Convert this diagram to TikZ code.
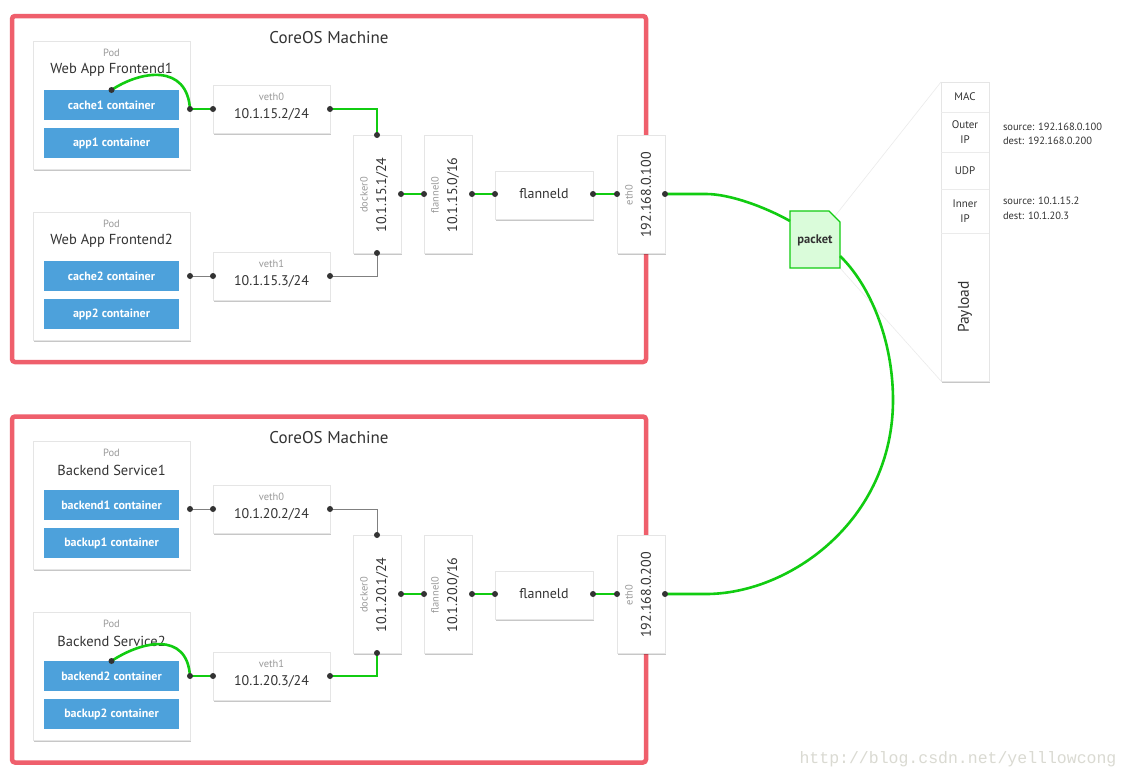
\documentclass[tikz,border=0pt]{standalone}
\usepackage{fontspec}
\setmainfont{PT Sans}
\setmonofont{Liberation Mono}
\usetikzlibrary{shadows,calc}
\definecolor{redf}{HTML}{EF5F6C}
\definecolor{bluec}{HTML}{4DA1DB}
\definecolor{greenl}{HTML}{11CC11}
\definecolor{pktfill}{HTML}{DAFCDA}
\definecolor{dotc}{HTML}{333333}
\definecolor{txt}{HTML}{333333}
\definecolor{lbl}{HTML}{9A9A9A}
\definecolor{wmark}{HTML}{DADAD2}
\newcommand\fsz[2]{\fontsize{#1}{#2}\selectfont}
\newcommand\jdot[1]{\fill[dotc] (#1) circle (3pt);}
\tikzset{
 frame/.style={draw=redf, line width=4.5pt, rounded corners=3pt, minimum width=634pt, minimum height=346pt},
 wbox/.style={draw=black!10, line width=0.6pt, fill=white, drop shadow={shadow xshift=0.8pt, shadow yshift=-1.6pt, opacity=0.22, fill=black}},
 podbox/.style={wbox, minimum width=157pt, minimum height=128pt},
 cont/.style={fill=bluec, minimum width=135pt, minimum height=30pt, text=white, font=\fsz{12}{14}\bfseries},
 vethbox/.style={wbox, minimum width=117pt, minimum height=48pt},
 vbox/.style={wbox, minimum width=48pt, minimum height=118pt},
 fdbox/.style={wbox, minimum width=98pt, minimum height=48pt},
 title/.style={font=\fsz{17}{20}},
 podlbl/.style={font=\fsz{10.5}{12}, text=lbl},
 podname/.style={font=\fsz{14.5}{17}},
 small/.style={font=\fsz{10.5}{12}, text=lbl},
 addr/.style={font=\fsz{14}{17}},
 gw/.style={draw=greenl, line width=2.6pt},
 gl/.style={draw=black!50, line width=0.8pt},
 pkt/.style={draw=greenl, line width=1.2pt, fill=pktfill},
 faint/.style={draw=black!8, line width=0.6pt},
 note/.style={font=\fsz{10.5}{14.5}, align=left, anchor=west},
 colsec/.style={minimum width=48pt, font=\fsz{11}{15}, align=center},
}
\begin{document}
\begin{tikzpicture}[x=1pt,y=-1pt, every node/.style={inner sep=0pt, outer sep=0pt, text=txt}]
\fill[white] (0,0) rectangle (1130,779);
\useasboundingbox (0,0) rectangle (1130,779);

% ===== machine frames =====
\node[frame] (m1) at (329,189) {};
\node[frame] (m2) at (329,589.5) {};
\node[title] (t1) at (329,38) {CoreOS Machine};
\node[title] (t2) at (329,438) {CoreOS Machine};

% ===== top machine =====
\node[podbox] (p1) at (111.5,105) {};
\node[podlbl] (p1a) at (111.5,53) {Pod};
\node[podname] (p1b) at (111.5,70) {Web App Frontend1};
\node[cont] (c1) at (111.5,105) {cache1 container};
\node[cont] (a1) at (111.5,143) {app1 container};

\node[podbox] (p2) at (111.5,276) {};
\node[podlbl] (p2a) at (111.5,224) {Pod};
\node[podname] (p2b) at (111.5,241) {Web App Frontend2};
\node[cont] (c2) at (111.5,276) {cache2 container};
\node[cont] (a2) at (111.5,314) {app2 container};

\node[vethbox] (v0) at (271.5,109) {};
\node[small] (v0a) at (271.5,97) {veth0};
\node[addr] (v0b) at (271.5,114) {10.1.15.2/24};
\node[vethbox] (v1) at (271.5,276) {};
\node[small] (v1a) at (271.5,264) {veth1};
\node[addr] (v1b) at (271.5,281) {10.1.15.3/24};

\node[vbox] (d0) at (377,194) {};
\node[small, rotate=90] (d0a) at (364,195) {docker0};
\node[addr, rotate=90] (d0b) at (382,195) {10.1.15.1/24};
\node[vbox] (f0) at (448,194) {};
\node[small, rotate=90] (f0a) at (435,195) {flannel0};
\node[addr, rotate=90] (f0b) at (453,195) {10.1.15.0/16};
\node[fdbox] (fd0) at (544,195) {};
\node[addr] (fd0a) at (544,194) {flanneld};
\node[vbox] (e0) at (641,194) {};
\node[small, rotate=90] (e0a) at (629,195) {eth0};
\node[addr, rotate=90] (e0b) at (646,195) {192.168.0.100};

% ===== bottom machine =====
\node[podbox] (p3) at (111.5,505) {};
\node[podlbl] (p3a) at (111.5,453) {Pod};
\node[podname] (p3b) at (111.5,470) {Backend Service1};
\node[cont] (c3) at (111.5,505) {backend1 container};
\node[cont] (a3) at (111.5,543) {backup1 container};

\node[podbox] (p4) at (111.5,676) {};
\node[podlbl] (p4a) at (111.5,624) {Pod};
\node[podname] (p4b) at (111.5,641) {Backend Service2};
\node[cont] (c4) at (111.5,676) {backend2 container};
\node[cont] (a4) at (111.5,714) {backup2 container};

\node[vethbox] (v2) at (271.5,509) {};
\node[small] (v2a) at (271.5,497) {veth0};
\node[addr] (v2b) at (271.5,514) {10.1.20.2/24};
\node[vethbox] (v3) at (271.5,676) {};
\node[small] (v3a) at (271.5,664) {veth1};
\node[addr] (v3b) at (271.5,681) {10.1.20.3/24};

\node[vbox] (d1) at (377,594) {};
\node[small, rotate=90] (d1a) at (364,595) {docker0};
\node[addr, rotate=90] (d1b) at (382,595) {10.1.20.1/24};
\node[vbox] (f1) at (448,594) {};
\node[small, rotate=90] (f1a) at (435,595) {flannel0};
\node[addr, rotate=90] (f1b) at (453,595) {10.1.20.0/16};
\node[fdbox] (fd1) at (544,595) {};
\node[addr] (fd1a) at (544,594) {flanneld};
\node[vbox] (e1) at (641,594) {};
\node[small, rotate=90] (e1a) at (629,595) {eth0};
\node[addr, rotate=90] (e1b) at (646,595) {192.168.0.200};

% ===== packet column =====
\node[wbox, minimum width=48pt, minimum height=299pt] (col) at (965,231.5) {};
\node[colsec, minimum height=30pt] (s1) at (965,97) {MAC};
\node[colsec, minimum height=40pt] (s2) at (965,132) {Outer\\IP};
\node[colsec, minimum height=37pt] (s3) at (965,170.5) {UDP};
\node[colsec, minimum height=44pt] (s4) at (965,211) {Inner\\IP};
\node[colsec, minimum height=148pt] (s5) at (965,307) {};
\node[font=\fsz{15.5}{18}, rotate=90] (s5a) at (s5.center) {Payload};
\foreach \s in {s1,s2,s3,s4} \draw[faint] (\s.south west) -- (\s.south east);
\node[note] (n1) at (1003,134) {source: 192.168.0.100\\dest: 192.168.0.200};
\node[note] (n2) at (1003,208.5) {source: 10.1.15.2\\dest: 10.1.20.3};

% ===== packet =====
\node[minimum width=50pt, minimum height=57pt] (pk) at (815,239.5) {};
\draw[faint] ($(pk.north east)+(-5,5)$) -- (col.north west);
\draw[faint] (pk.south east) -- (col.south west);
\draw[pkt] (pk.south west) -- (pk.north west) -- ($(pk.north east)+(-11,0)$) -- ($(pk.north east)+(0,11)$) -- (pk.south east) -- cycle;
\node[font=\fsz{12.5}{14}\bfseries] (pkt) at (815,240) {packet};

% ===== connectors top =====
\coordinate (p1e) at (p1.east |- v0.west);
\coordinate (p2e) at (p2.east |- v1.west);
\draw[gw] (c1.north) .. controls ($(c1.north)+(30,-20)$) and ($(p1e)+(-3,-45)$) .. (p1e);
\draw[gw] (p1e) -- (v0.west);
\draw[gw] (v0.east) -| (d0.north);
\draw[gl] (p2e) -- (v1.west);
\draw[gl] (v1.east) -| (d0.south);
\draw[gw] (d0.east) -- (f0.west);
\draw[gw] (f0.east) -- (fd0.west |- f0.east);
\draw[gw] (fd0.east |- e0.west) -- (e0.west);

% ===== connectors bottom =====
\coordinate (p3e) at (p3.east |- v2.west);
\coordinate (p4e) at (p4.east |- v3.west);
\draw[gl] (p3e) -- (v2.west);
\draw[gl] (v2.east) -| (d1.north);
\draw[gw] (c4.north) .. controls ($(c4.north)+(30,-20)$) and ($(p4e)+(-3,-45)$) .. (p4e);
\draw[gw] (p4e) -- (v3.west);
\draw[gw] (v3.east) -| (d1.south);
\draw[gw] (d1.east) -- (f1.west);
\draw[gw] (f1.east) -- (fd1.west |- f1.east);
\draw[gw] (fd1.east |- e1.west) -- (e1.west);

% ===== link between machines =====
\coordinate (pkin) at ($(pk.north west)+(0,10)$);
\coordinate (pkout) at ($(pk.south east)+(0,-12)$);
\coordinate (apex) at (893,400);
\draw[gw] (e0.east) -- ++(41,0) .. controls +(24,0) and ($(pkin)+(-25,-14)$) .. (pkin);
\draw[gw] (pkout) .. controls +(30,29) and ($(apex)+(0,-60)$) .. (apex)
  .. controls +(0,120) and ($(e1.east)+(125,0)$) .. ($(e1.east)+(41,0)$) -- (e1.east);

% ===== dots =====
\jdot{c1.north} \jdot{p1e} \jdot{v0.west} \jdot{v0.east} \jdot{d0.north}
\jdot{p2e} \jdot{v1.west} \jdot{v1.east} \jdot{d0.south}
\jdot{d0.east} \jdot{f0.west} \jdot{f0.east} \jdot{fd0.west |- f0.east}
\jdot{fd0.east |- e0.west} \jdot{e0.west} \jdot{e0.east}
\jdot{p3e} \jdot{v2.west} \jdot{v2.east} \jdot{d1.north}
\jdot{c4.north} \jdot{p4e} \jdot{v3.west} \jdot{v3.east} \jdot{d1.south}
\jdot{d1.east} \jdot{f1.west} \jdot{f1.east} \jdot{fd1.west |- f1.east}
\jdot{fd1.east |- e1.west} \jdot{e1.west} \jdot{e1.east}

% ===== watermark =====
\node[font=\ttfamily\fsz{16.5}{18}, text=wmark] (wm) at (958,759) {http://blog.csdn.net/yelllowcong};
\end{tikzpicture}
\end{document}
